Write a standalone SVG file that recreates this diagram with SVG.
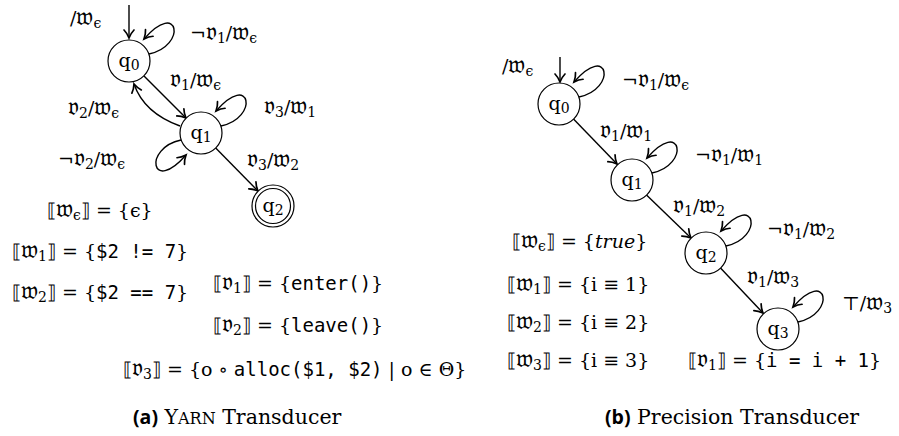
<svg xmlns="http://www.w3.org/2000/svg" width="899" height="436" viewBox="0 0 899 436">
<defs>
<marker id="arr" markerUnits="userSpaceOnUse" markerWidth="14" markerHeight="14" refX="0" refY="0" viewBox="-10 -7 12 14" orient="auto" overflow="visible">
<path d="M-8,-5 C-5,-2 -1.5,-0.6 0,0 C-1.5,0.6 -5,2 -8,5" fill="none" stroke="#000" stroke-width="1.7" stroke-linecap="round"/>
</marker>
<path id="loop" d="M20,-7 C58,-15 50,-62 15,-22" class="e"/>
</defs>
<style>
text{font-family:"DejaVu Serif","Liberation Serif",serif;font-size:19px;fill:#000}
.f{font-size:25px}
.m{font-family:"DejaVu Sans Mono","Liberation Mono",monospace;font-size:19px}
.s{font-size:14px}
.st{fill:#fff;stroke:#000;stroke-width:1.2}
.e{fill:none;stroke:#000;stroke-width:1.4;marker-end:url(#arr)}
.cap{font-family:"Open Sans","DejaVu Sans",sans-serif;font-weight:bold;font-size:19.5px}
.c{font-size:20.5px}
.it{font-style:italic}
</style>
<g id="connectors">
<path class="e" d="M129,5 L129,38"/>
<use href="#loop" transform="translate(129,61)"/>
<path class="e" d="M144,76 L186,118"/>
<path class="e" d="M180,126 Q144,113 134,84"/>
<use href="#loop" transform="translate(201,133)"/>
<use href="#loop" transform="translate(201,133) rotate(180)"/>
<path class="e" d="M215.7,148 L258,191"/>
<path class="e" d="M560,57 L560,82"/>
<use href="#loop" transform="translate(559,104)"/>
<path class="e" d="M573.5,119 L617,164"/>
<use href="#loop" transform="translate(632,180)"/>
<path class="e" d="M646.5,195 L691,238"/>
<use href="#loop" transform="translate(706,253)"/>
<path class="e" d="M720.5,268 L763,313"/>
<use href="#loop" transform="translate(778,329)"/>
</g>
<g id="L_q0"><circle class="st" cx="129" cy="61" r="21"/><text x="129" y="67" text-anchor="middle">q<tspan class="s" dy="3">0</tspan></text></g>
<g id="L_q1"><circle class="st" cx="201" cy="133" r="21"/><text x="201" y="139" text-anchor="middle">q<tspan class="s" dy="3">1</tspan></text></g>
<g id="L_q2"><circle class="st" cx="273" cy="206" r="21"/><circle class="st" cx="273" cy="206" r="17.5"/><text x="273" y="212" text-anchor="middle">q<tspan class="s" dy="3">2</tspan></text></g>
<g id="R_q0"><circle class="st" cx="559" cy="104" r="21"/><text x="559" y="110" text-anchor="middle">q<tspan class="s" dy="3">0</tspan></text></g>
<g id="R_q1"><circle class="st" cx="632" cy="180" r="21"/><text x="632" y="186" text-anchor="middle">q<tspan class="s" dy="3">1</tspan></text></g>
<g id="R_q2"><circle class="st" cx="706" cy="253" r="21"/><text x="706" y="259" text-anchor="middle">q<tspan class="s" dy="3">2</tspan></text></g>
<g id="R_q3"><circle class="st" cx="778" cy="329" r="21"/><text x="778" y="335" text-anchor="middle">q<tspan class="s" dy="3">3</tspan></text></g>
<g id="labels">
<text x="70" y="25">/<tspan class="f">𝔴</tspan><tspan class="s" dy="3">ϵ</tspan></text>
<text x="190" y="40">¬<tspan class="f">𝔳</tspan><tspan class="s" dy="3">1</tspan><tspan dy="-3">/</tspan><tspan class="f">𝔴</tspan><tspan class="s" dy="3">ϵ</tspan></text>
<text x="170" y="87"><tspan class="f">𝔳</tspan><tspan class="s" dy="3">1</tspan><tspan dy="-3">/</tspan><tspan class="f">𝔴</tspan><tspan class="s" dy="3">ϵ</tspan></text>
<text x="68" y="115"><tspan class="f">𝔳</tspan><tspan class="s" dy="3">2</tspan><tspan dy="-3">/</tspan><tspan class="f">𝔴</tspan><tspan class="s" dy="3">ϵ</tspan></text>
<text x="264" y="114"><tspan class="f">𝔳</tspan><tspan class="s" dy="3">3</tspan><tspan dy="-3">/</tspan><tspan class="f">𝔴</tspan><tspan class="s" dy="3">1</tspan></text>
<text x="58" y="166">¬<tspan class="f">𝔳</tspan><tspan class="s" dy="3">2</tspan><tspan dy="-3">/</tspan><tspan class="f">𝔴</tspan><tspan class="s" dy="3">ϵ</tspan></text>
<text x="247" y="167"><tspan class="f">𝔳</tspan><tspan class="s" dy="3">3</tspan><tspan dy="-3">/</tspan><tspan class="f">𝔴</tspan><tspan class="s" dy="3">2</tspan></text>
<text x="502" y="73">/<tspan class="f">𝔴</tspan><tspan class="s" dy="3">ϵ</tspan></text>
<text x="622" y="87">¬<tspan class="f">𝔳</tspan><tspan class="s" dy="3">1</tspan><tspan dy="-3">/</tspan><tspan class="f">𝔴</tspan><tspan class="s" dy="3">ϵ</tspan></text>
<text x="600" y="138"><tspan class="f">𝔳</tspan><tspan class="s" dy="3">1</tspan><tspan dy="-3">/</tspan><tspan class="f">𝔴</tspan><tspan class="s" dy="3">1</tspan></text>
<text x="695" y="162">¬<tspan class="f">𝔳</tspan><tspan class="s" dy="3">1</tspan><tspan dy="-3">/</tspan><tspan class="f">𝔴</tspan><tspan class="s" dy="3">1</tspan></text>
<text x="673" y="213"><tspan class="f">𝔳</tspan><tspan class="s" dy="3">1</tspan><tspan dy="-3">/</tspan><tspan class="f">𝔴</tspan><tspan class="s" dy="3">2</tspan></text>
<text x="767" y="236">¬<tspan class="f">𝔳</tspan><tspan class="s" dy="3">1</tspan><tspan dy="-3">/</tspan><tspan class="f">𝔴</tspan><tspan class="s" dy="3">2</tspan></text>
<text x="747" y="284"><tspan class="f">𝔳</tspan><tspan class="s" dy="3">1</tspan><tspan dy="-3">/</tspan><tspan class="f">𝔴</tspan><tspan class="s" dy="3">3</tspan></text>
<text x="842" y="310">⊤/<tspan class="f">𝔴</tspan><tspan class="s" dy="3">3</tspan></text>
</g>
<g id="equations">
<text x="47" y="217">⟦<tspan class="f">𝔴</tspan><tspan class="s" dy="3">ϵ</tspan><tspan dy="-3">⟧ = {ϵ}</tspan></text>
<text x="12" y="258">⟦<tspan class="f">𝔴</tspan><tspan class="s" dy="3">1</tspan><tspan dy="-3">⟧ = {</tspan><tspan class="m">$2 != 7</tspan>}</text>
<text x="12" y="299">⟦<tspan class="f">𝔴</tspan><tspan class="s" dy="3">2</tspan><tspan dy="-3">⟧ = {</tspan><tspan class="m">$2 == 7</tspan>}</text>
<text x="213" y="290">⟦<tspan class="f">𝔳</tspan><tspan class="s" dy="3">1</tspan><tspan dy="-3">⟧ = {</tspan><tspan class="m">enter()</tspan>}</text>
<text x="213" y="332">⟦<tspan class="f">𝔳</tspan><tspan class="s" dy="3">2</tspan><tspan dy="-3">⟧ = {</tspan><tspan class="m">leave()</tspan>}</text>
<text x="123" y="376">⟦<tspan class="f">𝔳</tspan><tspan class="s" dy="3">3</tspan><tspan dy="-3">⟧ = {o ∘ </tspan><tspan class="m">alloc($1, $2)</tspan> | o ∈ Θ}</text>
<text x="512" y="248">⟦<tspan class="f">𝔴</tspan><tspan class="s" dy="3">ϵ</tspan><tspan dy="-3">⟧ = {</tspan><tspan class="it">true</tspan>}</text>
<text x="507" y="291">⟦<tspan class="f">𝔴</tspan><tspan class="s" dy="3">1</tspan><tspan dy="-3">⟧ = {i ≡ 1}</tspan></text>
<text x="507" y="329">⟦<tspan class="f">𝔴</tspan><tspan class="s" dy="3">2</tspan><tspan dy="-3">⟧ = {i ≡ 2}</tspan></text>
<text x="507" y="367">⟦<tspan class="f">𝔴</tspan><tspan class="s" dy="3">3</tspan><tspan dy="-3">⟧ = {i ≡ 3}</tspan></text>
<text x="688" y="367">⟦<tspan class="f">𝔳</tspan><tspan class="s" dy="3">1</tspan><tspan dy="-3">⟧ = {</tspan><tspan class="m">i = i + 1</tspan>}</text>
</g>
<g id="captions">
<text x="133" y="424" class="c"><tspan class="cap">(a)</tspan> Y<tspan font-size="16">ARN</tspan> Transducer</text>
<text x="605" y="424" class="c"><tspan class="cap">(b)</tspan> Precision Transducer</text>
</g>
</svg>
